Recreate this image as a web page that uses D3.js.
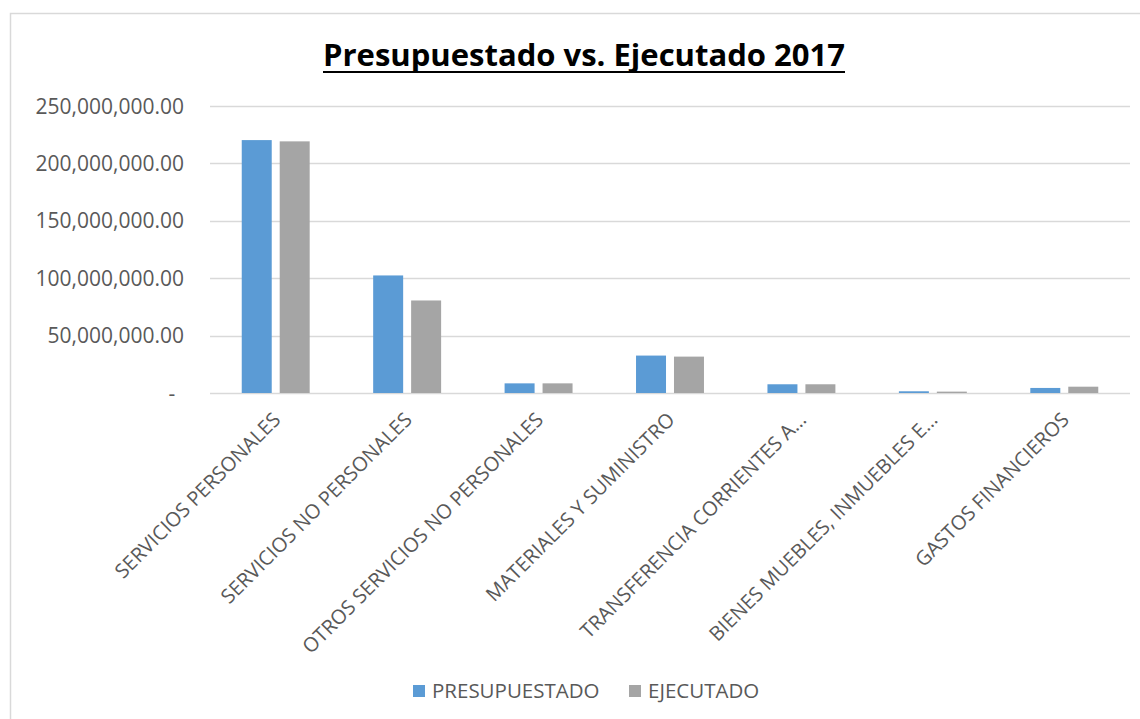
<!DOCTYPE html>
<html>
<head>
<meta charset="utf-8">
<script src="https://cdn.jsdelivr.net/npm/d3@7"></script>
<style>
  html, body { margin: 0; padding: 0; background: #fff; }
  svg { display: block; }
</style>
</head>
<body>
<svg id="chart" width="1140" height="719"></svg>
<script>
const title = "Presupuestado vs. Ejecutado 2017";
const categories = [
  "SERVICIOS PERSONALES",
  "SERVICIOS NO PERSONALES",
  "OTROS SERVICIOS NO PERSONALES",
  "MATERIALES Y SUMINISTRO",
  "TRANSFERENCIA CORRIENTES A…",
  "BIENES MUEBLES, INMUEBLES E…",
  "GASTOS FINANCIEROS"
];
const seriesNames = ["PRESUPUESTADO", "EJECUTADO"];
const presupuestado = [220300000, 102400000, 8400000, 32600000, 7600000, 1500000, 4400000];
const ejecutado     = [219200000, 80600000, 8400000, 31700000, 7600000, 1200000, 5500000];
const yTicks = [0, 50000000, 100000000, 150000000, 200000000, 250000000];
const colors = ["#5B9BD5", "#A5A5A5"];

(function () {
const svg = d3.select("#chart");
const font = "'Open Sans', 'Noto Sans', sans-serif";
const textColor = "#595959";

// chart frame
svg.append("path")
  .attr("d", "M10.5,719 L10.5,13.5 L1140,13.5")
  .attr("fill", "none").attr("stroke", "#D9D9D9").attr("stroke-width", 1.5);

const pLeft = 210, pRight = 1130, pTop = 106, pBottom = 393;

const x = d3.scaleBand().domain(categories).range([pLeft, pRight])
  .paddingInner(0.483).paddingOuter(0.2415);
const x1 = d3.scaleBand().domain(seriesNames).range([0, x.bandwidth()]).paddingInner(0.21);
const y = d3.scaleLinear().domain([0, 250000000]).range([pBottom, pTop]);

// gridlines
svg.append("g").selectAll("line").data(yTicks).join("line")
  .attr("x1", pLeft).attr("x2", pRight)
  .attr("y1", d => Math.round(y(d)) + 0.5).attr("y2", d => Math.round(y(d)) + 0.5)
  .attr("stroke", "#D9D9D9").attr("stroke-width", 1.3);

// y labels
const fmt = d3.format(",.2f");
svg.append("g").selectAll("text").data(yTicks).join("text")
  .attr("x", d => d === 0 ? 172 : 184)
  .attr("y", d => y(d))
  .attr("dy", "0.36em")
  .attr("text-anchor", d => d === 0 ? "middle" : "end")
  .attr("font-family", font).attr("font-size", 21).attr("fill", textColor)
  .text(d => d === 0 ? "-" : fmt(d));

// bars
const rows = categories.map((c, i) => ({ cat: c, vals: [presupuestado[i], ejecutado[i]] }));
const groups = svg.append("g").selectAll("g").data(rows).join("g")
  .attr("transform", d => `translate(${x(d.cat)},0)`);
groups.selectAll("rect").data(d => d.vals.map((v, j) => ({ s: seriesNames[j], v, j })))
  .join("rect")
  .attr("x", d => x1(d.s))
  .attr("width", x1.bandwidth())
  .attr("y", d => y(d.v))
  .attr("height", d => pBottom - y(d.v))
  .attr("fill", d => colors[d.j]);

// category labels
svg.append("g").selectAll("text").data(categories).join("text")
  .attr("transform", d => `translate(${x(d) + x.bandwidth() / 2 + 6},421) rotate(-45)`)
  .attr("text-anchor", "end")
  .attr("font-family", font).attr("font-size", 20).attr("fill", textColor)
  .text(d => d);

// title
svg.append("text")
  .attr("x", 584).attr("y", 66)
  .attr("text-anchor", "middle")
  .attr("font-family", font).attr("font-weight", "bold").attr("font-size", 30)
  .attr("fill", "#000")
  .attr("textLength", 522).attr("lengthAdjust", "spacingAndGlyphs")
  .text(title);
svg.append("line")
  .attr("x1", 323).attr("x2", 845).attr("y1", 72).attr("y2", 72)
  .attr("stroke", "#000").attr("stroke-width", 2);

// legend
const legendX = [413, 629];
const lg = svg.append("g").selectAll("g").data(seriesNames).join("g")
  .attr("transform", (d, i) => `translate(${legendX[i]},685)`);
lg.append("rect").attr("width", 12).attr("height", 12).attr("fill", (d, i) => colors[i]);
lg.append("text")
  .attr("x", 19).attr("y", 6).attr("dy", "0.36em")
  .attr("font-family", font).attr("font-size", 20.5).attr("fill", textColor)
  .text(d => d);
})();
</script>
</body>
</html>
